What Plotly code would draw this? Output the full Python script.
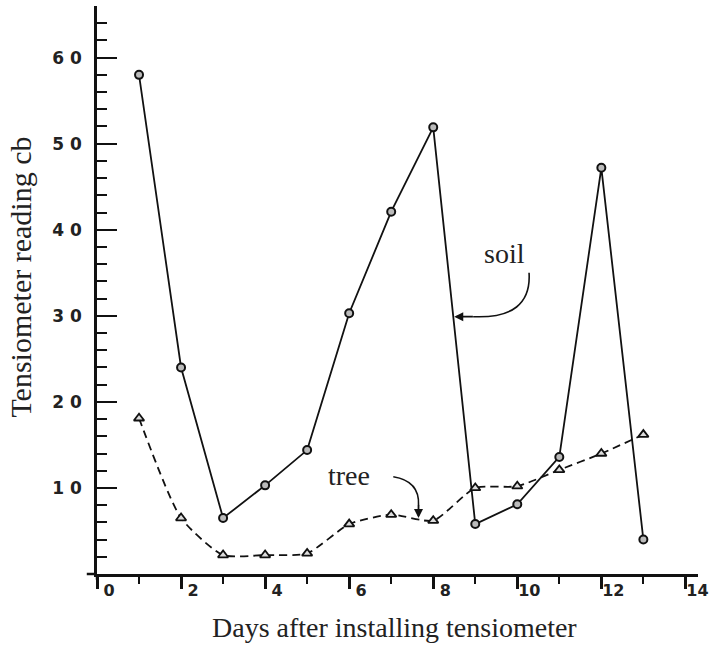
import plotly.graph_objects as go

days = [1, 2, 3, 4, 5, 6, 7, 8, 9, 10, 11, 12, 13]
soil = [58.0, 24.0, 6.5, 10.3, 14.4, 30.3, 42.1, 51.9, 5.8, 8.1, 13.6, 47.2, 4.0]
tree = [18.1, 6.5, 2.2, 2.2, 2.4, 5.8, 6.9, 6.2, 10.0, 10.2, 12.1, 14.0, 16.2]

x_ticks = [0, 2, 4, 6, 8, 10, 12, 14]
x_ticktext = ["0", "2", "4", "6", "8", "10", "12", "14"]
x_minor = [1, 3, 5, 7, 9, 11, 13]
y_ticks = [10, 20, 30, 40, 50, 60]
y_ticktext = ["1 0", "2 0", "3 0", "4 0", "5 0", "6 0"]

fig = go.Figure()
fig.add_trace(go.Scatter(
    x=days, y=soil, mode="lines+markers", name="soil",
    line=dict(color="#111", width=1.8),
    marker=dict(symbol="circle", size=8, color="#bbb", line=dict(color="#111", width=2)),
))
fig.add_trace(go.Scatter(
    x=days, y=tree, mode="lines+markers", name="tree",
    line=dict(color="#111", width=1.8, dash="8px,5px", shape="spline", smoothing=0.6),
    marker=dict(symbol="triangle-up", size=9, color="#ddd", line=dict(color="#111", width=1.8)),
))

serif = "Liberation Serif"
fig.add_annotation(x=9.7, y=37.2, text="soil", showarrow=False,
                   font=dict(family=serif, size=28, color="#222"))
fig.add_shape(type="path", xref="x", yref="y",
              path="M 10.28,35.0 Q 10.35,29.6 8.95,29.9",
              line=dict(color="#111", width=1.6))
fig.add_annotation(x=8.5, y=29.9, ax=8.98, ay=29.9, axref="x", ayref="y", text="",
                   showarrow=True, arrowhead=2, arrowsize=1, arrowwidth=1.8, arrowcolor="#111")

fig.add_annotation(x=6.0, y=11.5, text="tree", showarrow=False,
                   font=dict(family=serif, size=28, color="#222"))
fig.add_shape(type="path", xref="x", yref="y",
              path="M 7.05,11.3 Q 7.68,10.8 7.65,8.0",
              line=dict(color="#111", width=1.6))
fig.add_annotation(x=7.65, y=6.5, ax=7.65, ay=8.2, axref="x", ayref="y", text="",
                   showarrow=True, arrowhead=2, arrowsize=1, arrowwidth=1.8, arrowcolor="#111")

# axis titles
fig.add_annotation(xref="paper", yref="paper", x=0.495, y=-0.095, yanchor="middle",
                   text="Days after installing tensiometer", showarrow=False,
                   font=dict(family=serif, size=28, color="#222"))
fig.add_annotation(xref="paper", yref="paper", x=-0.127, y=0.523, xanchor="center", yanchor="middle",
                   textangle=-90, text="Tensiometer reading cb", showarrow=False,
                   font=dict(family=serif, size=30, color="#222"))

# extend axis lines slightly past the corner
fig.add_shape(type="line", xref="paper", yref="paper", x0=-0.017, x1=0, y0=0, y1=0,
              line=dict(color="#111", width=2.5))
fig.add_shape(type="line", xref="paper", yref="paper", x0=0, x1=0, y0=-0.01, y1=0,
              line=dict(color="#111", width=2.5))

fig.update_layout(
    width=715, height=649,
    margin=dict(l=97, r=17, t=6, b=75),
    plot_bgcolor="white", paper_bgcolor="white",
    showlegend=False,
    xaxis=dict(
        range=[0, 14.3], tickvals=x_ticks, ticktext=x_ticktext, automargin=False,
        showline=True, linecolor="#111", linewidth=2.5,
        ticks="outside", ticklen=12, tickwidth=2.5, tickcolor="#111",
        minor=dict(tickvals=x_minor, ticks="outside", ticklen=7, tickwidth=2, tickcolor="#111"),
        showgrid=False, zeroline=False,
        ticklabelshift=12, ticklabelstandoff=-12,
        tickfont=dict(family="DejaVu Sans", size=16, color="#222", weight="bold"),
    ),
    yaxis=dict(
        range=[0, 66.0], tickvals=y_ticks, ticktext=y_ticktext, automargin=False,
        showline=True, linecolor="#111", linewidth=2.5,
        ticks="inside", ticklen=20, tickwidth=2, tickcolor="#111",
        minor=dict(dtick=2, ticks="inside", ticklen=10, tickwidth=2, tickcolor="#111"),
        showgrid=False, zeroline=False,
        ticklabelstandoff=9,
        tickfont=dict(family="DejaVu Sans", size=17, color="#222", weight="bold"),
    ),
)

fig.write_html("out.html", config={"displayModeBar": False},
               post_script="document.body.style.margin='0px';document.body.style.overflow='hidden';")
